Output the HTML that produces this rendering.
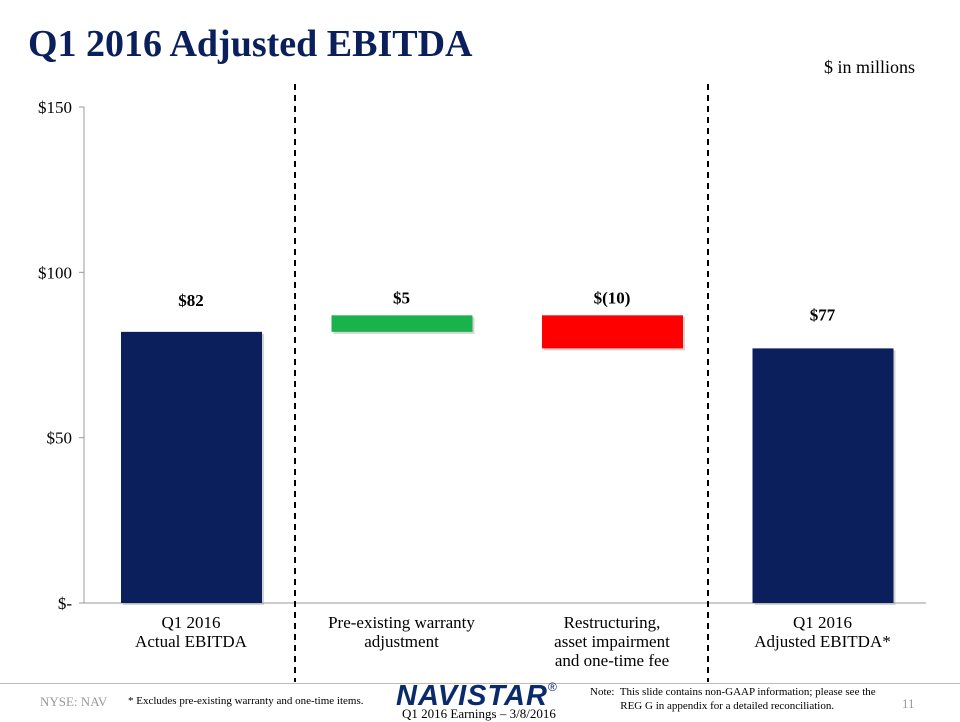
<!DOCTYPE html>
<html><head><meta charset="utf-8"><style>
body{margin:0;width:960px;height:720px;background:#fff;font-family:"Liberation Serif",serif;overflow:hidden;position:relative}
.a{position:absolute}
</style></head><body>
<div class="a" style="left:28px;top:22px;font-size:38px;font-weight:bold;color:#0a1f5c">Q1 2016 Adjusted EBITDA</div>
<div class="a" style="right:45px;top:57px;font-size:18px">$ in millions</div>
<svg class="a" style="left:0;top:0" width="960" height="720">
<g id="g"></g>
</svg>
<div class="a" style="left:0;top:683px;width:960px;height:1px;background:#bbb"></div>
<div class="a" style="left:40px;top:694px;font-size:13px;color:#999">NYSE: NAV</div>
<div class="a" style="left:128px;top:695px;font-size:11px">* Excludes pre-existing warranty and one-time items.</div>
<div class="a" style="left:396px;top:680px;font-family:'Liberation Sans',sans-serif;font-size:29px;font-weight:bold;font-style:italic;color:#0a2a6c;letter-spacing:1px">NAVISTAR<span style="font-size:12px;vertical-align:top;font-style:normal;font-weight:normal">®</span></div>
<div class="a" style="left:402px;top:706px;font-size:13px">Q1 2016 Earnings – 3/8/2016</div>
<div class="a" style="left:590px;top:685px;font-size:11px;line-height:14px">Note:&nbsp; This slide contains non-GAAP information; please see the<br>&nbsp;&nbsp;&nbsp;&nbsp;&nbsp;&nbsp;&nbsp;&nbsp;&nbsp;&nbsp;&nbsp;REG G in appendix for a detailed reconciliation.</div>
<div class="a" style="left:902px;top:696px;font-size:13px;color:#999">11</div>
<script>
const categories=[["Q1 2016","Actual EBITDA"],["Pre-existing warranty","adjustment"],["Restructuring,","asset impairment","and one-time fee"],["Q1 2016","Adjusted EBITDA*"]];
const bases=[0,82,77,0];
const tops=[82,87,87,77];
const labels=["$82","$5","$(10)","$77"];
const colors=["#0a1f5c","#19b24b","#ff0000","#0a1f5c"];
const ticks=[0,50,100,150];
const tickLabels=["$-","$50","$100","$150"];
const NS="http://www.w3.org/2000/svg";
const g=document.getElementById('g');
const y=v=>603-v*496/150;
const cx=i=>191+i*210.5;
function mk(t,a){const e=document.createElementNS(NS,t);for(const k in a)e.setAttribute(k,a[k]);g.appendChild(e);return e;}
let ax=mk('line',{x1:84,y1:107,x2:84,y2:603,stroke:'#999'});


let bx=mk('line',{x1:84,y1:603,x2:926,y2:603,stroke:'#999'});


ticks.forEach((t,i)=>{
 mk('line',{x1:79,x2:84,y1:y(t),y2:y(t),stroke:'#999'});
 const tx=mk('text',{x:72,y:y(t)+6,'text-anchor':'end','font-size':17});
 tx.textContent=tickLabels[i];
 
 
});
[295,708].forEach(x=>{const l=mk('line',{x1:x,x2:x,y1:84,y2:682,stroke:'#000','stroke-width':2,'stroke-dasharray':'6,5'});
 
 });
categories.forEach((c,i)=>{
 const lo=Math.min(bases[i],tops[i]),hi=Math.max(bases[i],tops[i]);
 mk('rect',{x:cx(i)-68,y:y(hi)+2,width:141,height:y(lo)-y(hi),fill:'#aaa',opacity:0.5});
 const r=mk('rect',{x:cx(i)-70,y:y(hi),width:141,height:y(lo)-y(hi),fill:colors[i]});
 
 
 const lt=mk('text',{x:cx(i),y:y(hi)-(i==0?26:i==3?28:12),'text-anchor':'middle','font-size':17,'font-weight':'bold'});
 lt.textContent=labels[i];
 
 
 c.forEach((s,j)=>{const t=mk('text',{x:cx(i),y:628+j*19,'text-anchor':'middle','font-size':17});t.textContent=s;
  
  });
});
</script>
</body></html>
